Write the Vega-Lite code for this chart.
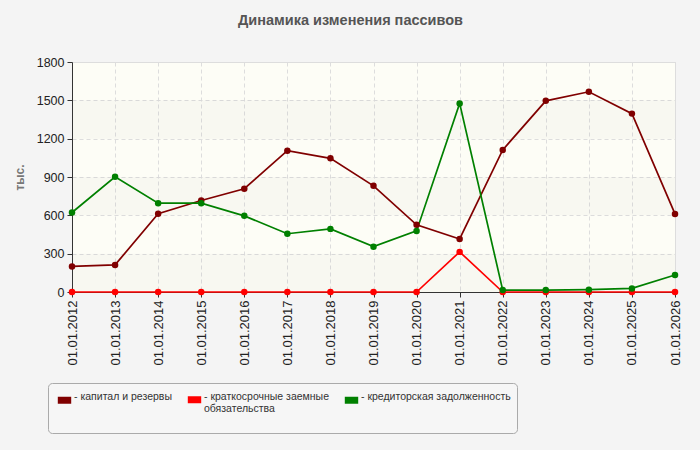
{
  "$schema": "https://vega.github.io/schema/vega-lite/v6.json",
  "width": 603,
  "height": 230,
  "autosize": {"type": "none"},
  "padding": {"left": 72, "top": 62, "right": 25, "bottom": 158},
  "background": "#f4f4f4",
  "title": {
    "text": "Динамика изменения пассивов",
    "font": "Liberation Sans",
    "fontSize": 14.5,
    "fontWeight": "bold",
    "color": "#555555",
    "anchor": "middle",
    "dx": -23,
    "offset": 28
  },
  "config": {
    "font": "Liberation Sans",
    "view": {"fill": "#fdfdf6", "stroke": "#dddddd"},
    "axis": {
      "labelFont": "Liberation Sans",
      "labelColor": "#222222",
      "labelFontSize": 12,
      "domainColor": "#333333",
      "tickColor": "#333333",
      "gridColor": "#dddddd",
      "gridDash": [4, 3]
    },
    "legend": {
      "orient": "none",
      "legendX": -24,
      "legendY": 321,
      "direction": "horizontal",
      "columns": 3,
      "columnPadding": 1,
      "fillColor": "#f6f6f6",
      "strokeColor": "#aaaaaa",
      "cornerRadius": 4,
      "padding": 6,
      "labelFont": "Liberation Sans",
      "labelFontSize": 10.5,
      "labelColor": "#333333",
      "labelLimit": 300,
      "labelOffset": -1,
      "labelBaseline": "alphabetic",
      "symbolType": "M-1,0H1",
      "symbolSize": 180,
      "symbolStrokeWidth": 7,
      "symbolOpacity": 1,
      "titleOrient": "bottom",
      "titleFontSize": 10,
      "titlePadding": 2
    }
  },
  "datasets": {
    "bands": [
      {"lo": 0, "hi": 300},
      {"lo": 600, "hi": 900},
      {"lo": 1200, "hi": 1500}
    ],
    "series": [
      {"date": "01.01.2012", "series": "капитал и резервы", "value": 200},
      {"date": "01.01.2013", "series": "капитал и резервы", "value": 212},
      {"date": "01.01.2014", "series": "капитал и резервы", "value": 612},
      {"date": "01.01.2015", "series": "капитал и резервы", "value": 716},
      {"date": "01.01.2016", "series": "капитал и резервы", "value": 808},
      {"date": "01.01.2017", "series": "капитал и резервы", "value": 1106},
      {"date": "01.01.2018", "series": "капитал и резервы", "value": 1046},
      {"date": "01.01.2019", "series": "капитал и резервы", "value": 831},
      {"date": "01.01.2020", "series": "капитал и резервы", "value": 526},
      {"date": "01.01.2021", "series": "капитал и резервы", "value": 415},
      {"date": "01.01.2022", "series": "капитал и резервы", "value": 1112},
      {"date": "01.01.2023", "series": "капитал и резервы", "value": 1496},
      {"date": "01.01.2024", "series": "капитал и резервы", "value": 1567},
      {"date": "01.01.2025", "series": "капитал и резервы", "value": 1396},
      {"date": "01.01.2026", "series": "капитал и резервы", "value": 611},
      {"date": "01.01.2012", "series": "краткосрочные заемные обязательства", "value": 0},
      {"date": "01.01.2013", "series": "краткосрочные заемные обязательства", "value": 0},
      {"date": "01.01.2014", "series": "краткосрочные заемные обязательства", "value": 0},
      {"date": "01.01.2015", "series": "краткосрочные заемные обязательства", "value": 0},
      {"date": "01.01.2016", "series": "краткосрочные заемные обязательства", "value": 0},
      {"date": "01.01.2017", "series": "краткосрочные заемные обязательства", "value": 0},
      {"date": "01.01.2018", "series": "краткосрочные заемные обязательства", "value": 0},
      {"date": "01.01.2019", "series": "краткосрочные заемные обязательства", "value": 0},
      {"date": "01.01.2020", "series": "краткосрочные заемные обязательства", "value": 0},
      {"date": "01.01.2021", "series": "краткосрочные заемные обязательства", "value": 314},
      {"date": "01.01.2022", "series": "краткосрочные заемные обязательства", "value": 0},
      {"date": "01.01.2023", "series": "краткосрочные заемные обязательства", "value": 0},
      {"date": "01.01.2024", "series": "краткосрочные заемные обязательства", "value": 0},
      {"date": "01.01.2025", "series": "краткосрочные заемные обязательства", "value": 0},
      {"date": "01.01.2026", "series": "краткосрочные заемные обязательства", "value": 0},
      {"date": "01.01.2012", "series": "кредиторская задолженность", "value": 622},
      {"date": "01.01.2013", "series": "кредиторская задолженность", "value": 902},
      {"date": "01.01.2014", "series": "кредиторская задолженность", "value": 695},
      {"date": "01.01.2015", "series": "кредиторская задолженность", "value": 695},
      {"date": "01.01.2016", "series": "кредиторская задолженность", "value": 596},
      {"date": "01.01.2017", "series": "кредиторская задолженность", "value": 456},
      {"date": "01.01.2018", "series": "кредиторская задолженность", "value": 494},
      {"date": "01.01.2019", "series": "кредиторская задолженность", "value": 355},
      {"date": "01.01.2020", "series": "кредиторская задолженность", "value": 478},
      {"date": "01.01.2021", "series": "кредиторская задолженность", "value": 1476},
      {"date": "01.01.2022", "series": "кредиторская задолженность", "value": 15},
      {"date": "01.01.2023", "series": "кредиторская задолженность", "value": 15},
      {"date": "01.01.2024", "series": "кредиторская задолженность", "value": 18},
      {"date": "01.01.2025", "series": "кредиторская задолженность", "value": 28},
      {"date": "01.01.2026", "series": "кредиторская задолженность", "value": 133}
    ]
  },
  "layer": [
    {
      "data": {"name": "bands"},
      "mark": {"type": "rect", "color": "#808080", "opacity": 0.04},
      "encoding": {
        "y": {
          "field": "lo",
          "type": "quantitative",
          "scale": {"domain": [0, 1800], "nice": false},
          "axis": {
            "title": "тыс.",
            "titleColor": "#777777",
            "titleFontSize": 12,
            "titleFontWeight": "bold",
            "titlePadding": 10,
            "values": [0, 300, 600, 900, 1200, 1500, 1800],
            "format": "d",
            "labelOverlap": false,
            "labelFontSize": 12.5,
            "tickSize": 5,
            "labelPadding": 3
          }
        },
        "y2": {"field": "hi"}
      }
    },
    {
      "data": {"name": "series"},
      "mark": {
        "type": "line",
        "strokeWidth": 1.7,
        "point": {"filled": true, "size": 42, "opacity": 1}
      },
      "encoding": {
        "x": {
          "field": "date",
          "type": "ordinal",
          "sort": null,
          "scale": {"type": "point", "padding": 0},
          "axis": {
            "title": null,
            "labelAngle": -90,
            "labelFontSize": 13,
            "grid": true,
            "tickSize": 5,
            "labelPadding": 3
          }
        },
        "y": {
          "field": "value",
          "type": "quantitative",
          "scale": {"domain": [0, 1800], "nice": false},
          "axis": {
            "title": "тыс.",
            "titleColor": "#777777",
            "titleFontSize": 12,
            "titleFontWeight": "bold",
            "titlePadding": 10,
            "values": [0, 300, 600, 900, 1200, 1500, 1800],
            "format": "d",
            "labelOverlap": false,
            "labelFontSize": 12.5,
            "tickSize": 5,
            "labelPadding": 3
          }
        },
        "color": {
          "field": "series",
          "type": "nominal",
          "sort": null,
          "scale": {
            "domain": ["капитал и резервы", "краткосрочные заемные обязательства", "кредиторская задолженность"],
            "range": ["#800000", "#ff0000", "#008000"]
          },
          "legend": {
            "title": " ",
            "labelExpr": "datum.label == 'краткосрочные заемные обязательства' ? ['- краткосрочные заемные', '\u00a0\u00a0обязательства'] : '- ' + datum.label"
          }
        },
        "order": {"field": "date"}
      }
    }
  ]
}
